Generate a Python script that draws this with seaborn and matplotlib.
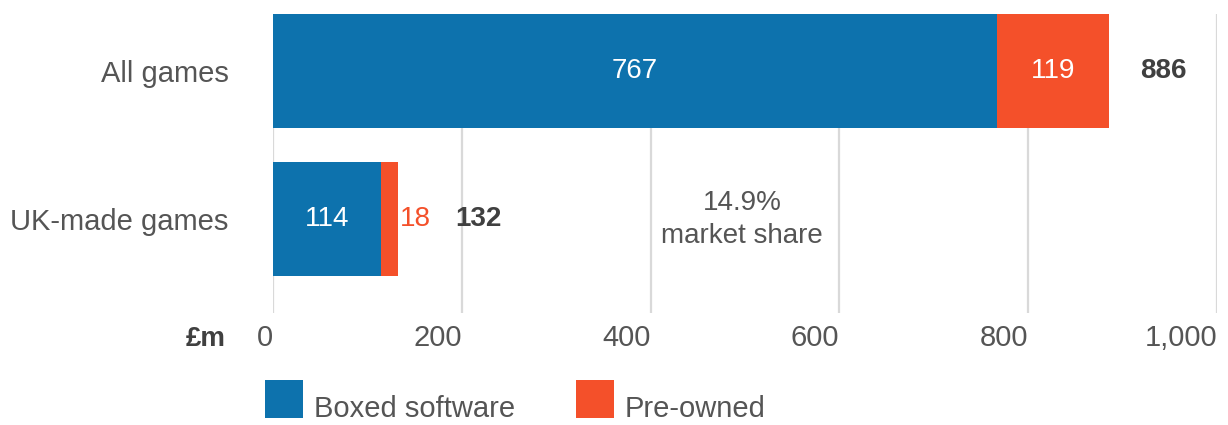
import matplotlib
matplotlib.use("Agg")
import matplotlib.pyplot as plt
from matplotlib.patches import Rectangle
import seaborn as sns
import pandas as pd

categories = ["All games", "UK-made games"]
boxed = [767, 114]
preowned = [119, 18]
totals = [886, 132]
x_ticks = [0, 200, 400, 600, 800, 1000]
x_tick_labels = ["0", "200", "400", "600", "800", "1,000"]
series_names = ["Boxed software", "Pre-owned"]
note_text = "14.9%\nmarket share"
unit_label = "£m"

BLUE = "#0d72ad"
ORANGE = "#f4502a"
GREY = "#555555"
DARK = "#404040"
GRID = "#d9d9d9"

sns.set_theme(style="white")
plt.rcParams["font.family"] = ["Liberation Sans", "DejaVu Sans"]

df = pd.DataFrame({"category": categories, "boxed": boxed,
                   "preowned": preowned, "total": totals})

W, H = 1228, 425
fig = plt.figure(figsize=(W / 100, H / 100), dpi=100)
ax = fig.add_axes([273 / W, 1 - 313 / H, (1217 - 273) / W, (313 - 14) / H])

FS = 21
FSV = 20
sns.barplot(data=df, x="total", y="category", color=ORANGE, width=0.77,
            saturation=1, ax=ax, orient="h", linewidth=0, edgecolor="none")
sns.barplot(data=df, x="boxed", y="category", color=BLUE, width=0.77,
            saturation=1, ax=ax, orient="h", linewidth=0, edgecolor="none")

ax.set_xlim(0, 1000)
ax.set_ylim(1.635, -0.385)
ax.set_xlabel("")
ax.set_ylabel("")
for s in ax.spines.values():
    s.set_visible(False)
ax.set_axisbelow(True)
ax.xaxis.grid(True, color=GRID, linewidth=1.6)
ax.yaxis.grid(False)
ax.set_xticks(x_ticks)
ax.set_xticklabels(x_tick_labels, ha="right")
ax.tick_params(axis="x", length=0, pad=8, labelsize=FS, labelcolor=GREY)
ax.tick_params(axis="y", length=0, pad=32, labelsize=FS, labelcolor=GREY)

# boxed software labels
for i in range(len(categories)):
    ax.text(boxed[i] / 2, i, str(boxed[i]), ha="center", va="center",
            color="white", fontsize=FSV)
# pre-owned labels
ax.text(boxed[0] + preowned[0] / 2, 0, str(preowned[0]), ha="center",
        va="center", color="white", fontsize=FSV)
ax.text(totals[1] + 2, 1, str(preowned[1]), ha="left", va="center",
        color=ORANGE, fontsize=FSV)
# totals
ax.text(totals[0] + 33, 0, str(totals[0]), ha="left", va="center",
        color=DARK, fontsize=FSV, fontweight="bold")
ax.text(totals[1] + 61, 1, str(totals[1]), ha="left", va="center",
        color=DARK, fontsize=FSV, fontweight="bold")
# annotation
ax.text(497, 1.0, note_text, ha="center", va="center", color=GREY,
        fontsize=FSV, linespacing=1.35)

fig.text(226 / W, 1 - 346 / H, unit_label, ha="right", va="baseline",
         color=DARK, fontsize=FSV, fontweight="bold")

# legend (drawn as squares + labels)
legend_items = [(265, BLUE, series_names[0]), (576, ORANGE, series_names[1])]
for x0, col, lab in legend_items:
    fig.add_artist(Rectangle((x0 / W, 1 - 418 / H), 38 / W, 38 / H,
                             transform=fig.transFigure, facecolor=col,
                             edgecolor="none"))
    fig.text((x0 + 49) / W, 1 - 417 / H, lab, ha="left", va="baseline",
             color=GREY, fontsize=FS)

fig.savefig("out.png", dpi=100)
